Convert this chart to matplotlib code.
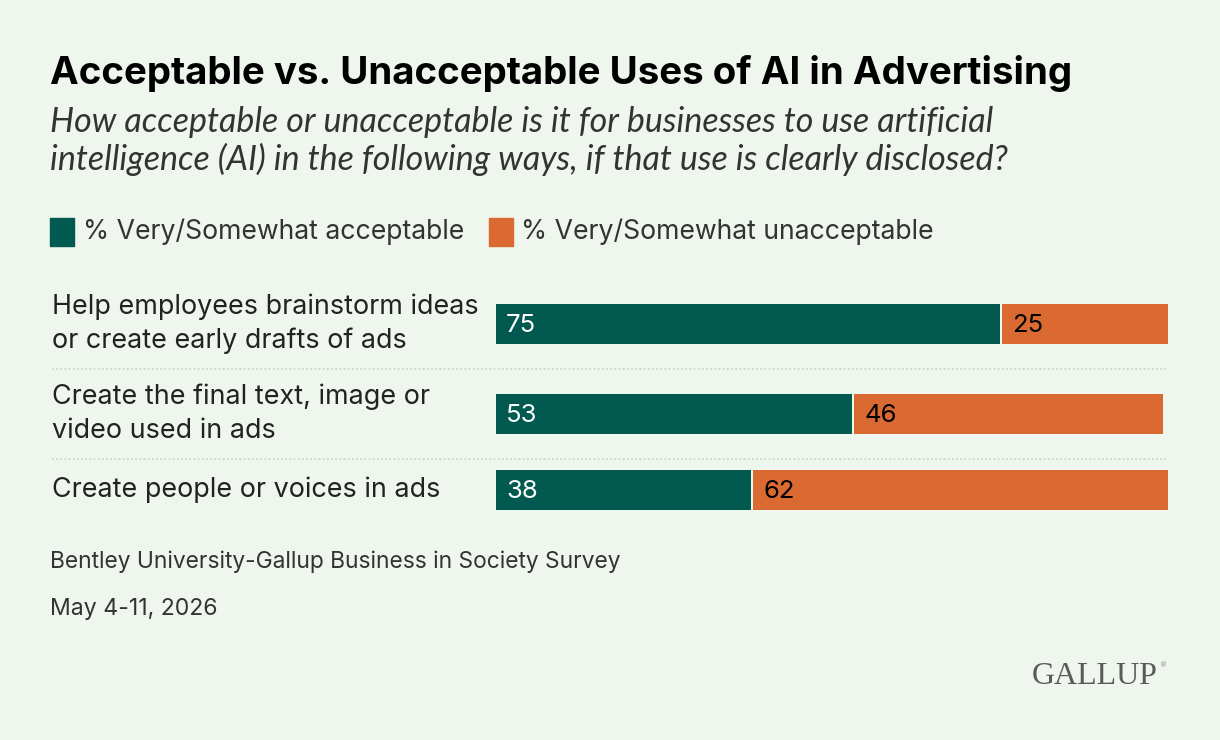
import matplotlib.pyplot as plt
import numpy as np

W, H = 1220, 740
bg = '#EFF6EE'
verde = '#02594F'
naranja = '#DA6A31'

categorias = ['Help employees brainstorm ideas\nor create early drafts of ads',
              'Create the final text, image or\nvideo used in ads',
              'Create people or voices in ads']
aceptable = [75, 53, 38]
inaceptable = [25, 46, 62]
series = ['% Very/Somewhat acceptable', '% Very/Somewhat unacceptable']

titulo = 'Acceptable vs. Unacceptable Uses of AI in Advertising'
subtitulo = ('How acceptable or unacceptable is it for businesses to use artificial\n'
             'intelligence (AI) in the following ways, if that use is clearly disclosed?')
fuente = 'Bentley University-Gallup Business in Society Survey'
fecha = 'May 4-11, 2026'

plt.rcParams['font.family'] = ['Inter', 'DejaVu Sans']

fig = plt.figure(figsize=(W/100, H/100), dpi=100, facecolor=bg)

def fx(x): return x/W
def fy(y): return 1 - y/H

# eje de barras: x 496-1168 px, y 290-520 px
ax = fig.add_axes([fx(496), fy(520), fx(1168)-fx(496), fy(290)-fy(520)])
ax.set_facecolor('none')
ax.set_xlim(0, 100)
ax.set_ylim(520, 290)
ax.axis('off')

ypos = [324, 414, 490]  # centro de cada barra en px
alto = 40
gap = 0.3
ax.barh(ypos, aceptable, height=alto, color=verde, linewidth=0)
ax.barh(ypos, inaceptable, left=np.array(aceptable)+gap, height=alto, color=naranja, linewidth=0)
for j, y in enumerate(ypos):
    ax.text(1.5, y+1, str(aceptable[j]), color='white', fontsize=18.5, va='center', ha='left')
    ax.text(aceptable[j]+gap+1.5, y+1, str(inaceptable[j]), color='black', fontsize=18.5,
            va='center', ha='left')

# separadores punteados
for ys in [369, 459]:
    fig.add_artist(plt.Line2D([fx(52), fx(1168)], [fy(ys), fy(ys)], color='#CDD3CC',
                              linewidth=1.2, linestyle=(0, (1, 1.5))))

# etiquetas de categoria
for j, y in enumerate(ypos):
    fig.text(fx(52), fy(y), categorias[j], fontsize=19.4, color='#222222', va='center',
             ha='left', linespacing=1.38)

fig.text(fx(50), fy(74), titulo, fontsize=27.7, fontweight='bold', color='black', va='center')
fig.text(fx(50), fy(141), subtitulo, fontsize=24.5, style='italic', color='#333333',
         va='center', linespacing=1.18, family=['Lato', 'DejaVu Sans'])

# leyenda
fig.add_artist(plt.Rectangle((fx(50), fy(246)), fx(24), fy(218)-fy(246), color=verde))
fig.text(fx(83), fy(232), series[0], fontsize=19.2, color='#333333', va='center')
fig.add_artist(plt.Rectangle((fx(489), fy(246)), fx(24), fy(218)-fy(246), color=naranja))
fig.text(fx(521), fy(232), series[1], fontsize=19.2, color='#333333', va='center')

fig.text(fx(50), fy(562), fuente, fontsize=16.4, color='#333333', va='center')
fig.text(fx(50), fy(609), fecha, fontsize=16.6, color='#333333', va='center')
fig.text(fx(1158), fy(676), 'GALLUP', fontsize=23, color='#5A5A5A', va='center', ha='right',
         family=['Liberation Serif', 'DejaVu Serif'])
fig.text(fx(1160), fy(665), '®', fontsize=5, color='#8A8A8A', va='center', ha='left',
         family=['DejaVu Sans'])

fig.savefig('out.png', dpi=100, facecolor=bg)
